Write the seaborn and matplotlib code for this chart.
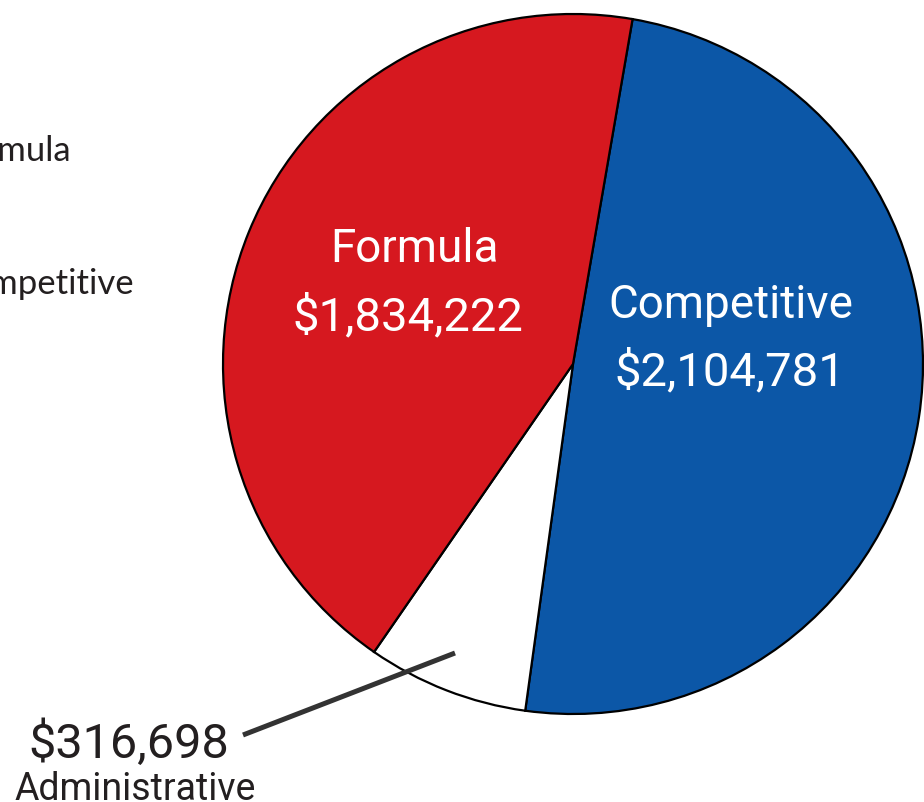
import matplotlib
matplotlib.use('Agg')
import matplotlib.pyplot as plt
import seaborn as sns

# 数据
categories = ['Competitive', 'Administrative', 'Formula']
values = [2104781, 316698, 1834222]
colors = ['#0c57a7', '#ffffff', '#d6181f']
legend_labels = ['Formula', 'Competitive']

sns.set_theme(style='white')
plt.rcParams['font.family'] = ['Roboto', 'DejaVu Sans']

W, H = 924, 802
fig = plt.figure(figsize=(W / 100, H / 100), dpi=100)
ax = fig.add_axes([0, 0, 1, 1])

# 饼图（顺时针）
ax.pie(values, colors=colors, startangle=80.2, counterclock=False,
       center=(573, 438), radius=350, frame=True,
       wedgeprops=dict(edgecolor='black', linewidth=1.6))
ax.set_xlim(0, W)
ax.set_ylim(0, H)
ax.set_aspect('equal')
ax.axis('off')

def money(v):
    return f'${v:,}'

dark = '#231f20'
# 扇区内标签
ax.text(415, 802 - 262, categories[2], color='white', fontsize=33, ha='center', va='baseline')
ax.text(408, 802 - 330, money(values[2]), color='white', fontsize=34, ha='center', va='baseline')
ax.text(731, 802 - 318, categories[0], color='white', fontsize=33, ha='center', va='baseline')
ax.text(730, 802 - 385, money(values[0]), color='white', fontsize=34, ha='center', va='baseline')

# 小扇区引线与标签
ax.plot([243, 455], [802 - 735, 802 - 653], color='#333333', linewidth=3.6,
        solid_capstyle='butt')
ax.text(129, 802 - 758, money(values[1]), color=dark, fontsize=35, ha='center', va='baseline')
ax.text(135, 802 - 800, categories[1], color=dark, fontsize=27, ha='center', va='baseline')

# 左侧图例文字（被裁切）
for lab, yb in zip(legend_labels, [161, 294]):
    ax.text(-54, 802 - yb, lab, color=dark, fontsize=25, family=['Lato', 'DejaVu Sans'],
            ha='left', va='baseline', clip_on=False)

fig.savefig('out.png', dpi=100)
